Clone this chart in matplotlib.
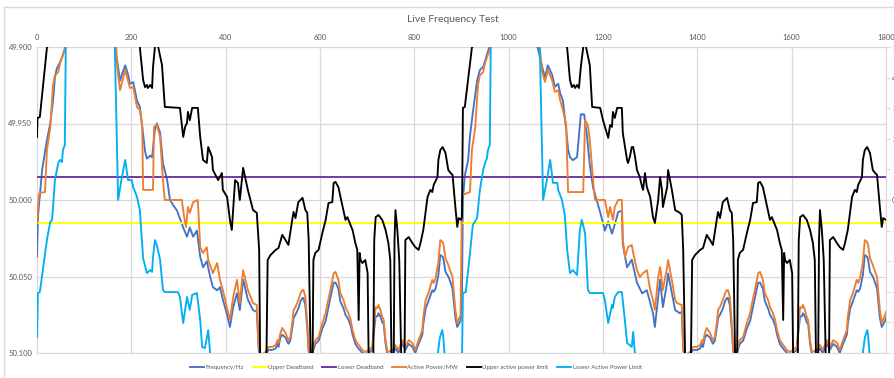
import matplotlib
matplotlib.use("Agg")
import matplotlib.pyplot as plt

plt.rcParams["font.family"] = ["Lato", "DejaVu Sans"]

# ---------------- data ----------------
time_ticks = [0, 200, 400, 600, 800, 1000, 1200, 1400, 1600, 1800]
freq_ticks = [49.90, 49.95, 50.00, 50.05, 50.10]
freq_tick_labels = ["49.900", "49.950", "50.000", "50.050", "50.100"]
mw_ticks = [-5, -4, -3, -2, -1, 0, 1, 2, 3, 4, 5]

upper_deadband_hz = 50.015
lower_deadband_hz = 49.985

# (time s, frequency Hz)
frequency = [
    (0, 50.037), (2, 50.011), (11, 49.980), (21, 49.961), (28, 49.950), (34, 49.935),
    (38, 49.920), (42, 49.914), (49, 49.910), (53, 49.907), (59, 49.901), (61, 49.898),
    (110, 49.850), (165, 49.899), (170, 49.909), (176, 49.922), (180, 49.918),
    (187, 49.912), (193, 49.918), (197, 49.924), (204, 49.923), (212, 49.935),
    (218, 49.939), (225, 49.957), (229, 49.968), (233, 49.973), (240, 49.971),
    (244, 49.972), (250, 49.954), (254, 49.950), (261, 49.956), (267, 49.976),
    (276, 49.987), (282, 50.000), (288, 50.003), (297, 50.007), (303, 50.012),
    (310, 50.018), (318, 50.024), (324, 50.018), (331, 50.024), (339, 50.020),
    (346, 50.037), (352, 50.044), (360, 50.040), (367, 50.050), (373, 50.057),
    (382, 50.059), (388, 50.057), (394, 50.065), (403, 50.075), (409, 50.083),
    (416, 50.070), (424, 50.061), (430, 50.072), (437, 50.052), (447, 50.065),
    (458, 50.072), (466, 50.073), (470, 50.098), (474, 50.103), (484, 50.101),
    (491, 50.098), (499, 50.098), (506, 50.097), (510, 50.094), (512, 50.096),
    (516, 50.090), (520, 50.088), (527, 50.090), (533, 50.094), (537, 50.092),
    (542, 50.082), (544, 50.077), (548, 50.075), (554, 50.071), (559, 50.066),
    (563, 50.064), (565, 50.064), (569, 50.069), (573, 50.084), (576, 50.099),
    (580, 50.103), (584, 50.100), (590, 50.094), (597, 50.092), (605, 50.084),
    (612, 50.079), (616, 50.073), (622, 50.064), (629, 50.054), (633, 50.054),
    (639, 50.058), (643, 50.066), (650, 50.071), (654, 50.075), (660, 50.078),
    (665, 50.082), (669, 50.088), (675, 50.094), (679, 50.096), (690, 50.100),
    (696, 50.101), (703, 50.100), (711, 50.098), (713, 50.090), (718, 50.076),
    (722, 50.076), (724, 50.074), (728, 50.076), (732, 50.080), (735, 50.081),
    (739, 50.094), (743, 50.101), (754, 50.100), (760, 50.097), (766, 50.100),
    (775, 50.094), (781, 50.098), (788, 50.094), (796, 50.096), (802, 50.100),
    (809, 50.094), (817, 50.088), (819, 50.081), (824, 50.071), (830, 50.066),
    (838, 50.059), (841, 50.060), (845, 50.058), (851, 50.049), (855, 50.036),
    (860, 50.037), (862, 50.039), (866, 50.047), (872, 50.050), (877, 50.054),
    (881, 50.058), (887, 50.077), (891, 50.083), (898, 50.079),
    (901, 50.061), (903, 50.000), (907, 49.984), (914, 49.974), (918, 49.958),
    (924, 49.943), (933, 49.922), (939, 49.915), (946, 49.913), (950, 49.909),
    (954, 49.905), (958, 49.901), (1010, 49.850), (1062, 49.901), (1071, 49.913),
    (1077, 49.920), (1083, 49.912), (1092, 49.918), (1098, 49.926), (1105, 49.924),
    (1109, 49.930), (1115, 49.935), (1122, 49.954), (1126, 49.967), (1130, 49.972),
    (1136, 49.974), (1145, 49.972), (1149, 49.958), (1153, 49.944), (1160, 49.944),
    (1166, 49.958), (1172, 49.977), (1179, 49.992), (1194, 50.008), (1204, 50.020),
    (1211, 50.014), (1219, 50.022), (1225, 50.016), (1232, 50.008), (1240, 50.007),
    (1242, 50.029), (1251, 50.044), (1261, 50.039), (1272, 50.054), (1283, 50.061),
    (1293, 50.059), (1306, 50.074), (1310, 50.083), (1321, 50.052), (1327, 50.070),
    (1336, 50.054), (1338, 50.048), (1346, 50.061), (1353, 50.072), (1363, 50.074),
    (1367, 50.073), (1370, 50.098), (1374, 50.103), (1384, 50.101), (1391, 50.098),
    (1399, 50.098), (1406, 50.097), (1410, 50.094), (1412, 50.096), (1416, 50.090),
    (1420, 50.088), (1427, 50.090), (1433, 50.094), (1437, 50.092), (1442, 50.082),
    (1444, 50.077), (1448, 50.075), (1454, 50.071), (1459, 50.066), (1463, 50.064),
    (1465, 50.064), (1469, 50.069), (1473, 50.084), (1476, 50.099), (1480, 50.103),
    (1484, 50.100), (1490, 50.094), (1497, 50.092), (1505, 50.084), (1512, 50.079),
    (1516, 50.073), (1522, 50.064), (1529, 50.054), (1533, 50.054), (1539, 50.058),
    (1543, 50.066), (1550, 50.071), (1554, 50.075), (1560, 50.078), (1565, 50.082),
    (1569, 50.088), (1575, 50.094), (1579, 50.096), (1590, 50.100), (1596, 50.101),
    (1603, 50.100), (1611, 50.098), (1613, 50.090), (1618, 50.076), (1622, 50.076),
    (1624, 50.074), (1628, 50.076), (1632, 50.080), (1635, 50.081), (1639, 50.094),
    (1643, 50.101), (1654, 50.100), (1660, 50.097), (1666, 50.100), (1675, 50.094),
    (1681, 50.098), (1688, 50.094), (1696, 50.096), (1702, 50.100), (1709, 50.094),
    (1717, 50.088), (1719, 50.081), (1724, 50.071), (1730, 50.066), (1738, 50.059),
    (1741, 50.060), (1745, 50.058), (1751, 50.049), (1755, 50.036), (1760, 50.037),
    (1762, 50.039), (1766, 50.047), (1772, 50.050), (1777, 50.054), (1781, 50.058),
    (1787, 50.077), (1791, 50.083), (1798, 50.079), (1800, 50.077),
]

# (time s, active power MW)
active_power = [
    (0, -0.75), (4, 0.16), (6, 0.23), (17, 0.26), (21, 1.63), (28, 2.35), (34, 3.76),
    (38, 4.08), (45, 4.18), (49, 4.48), (55, 4.74), (59, 4.90), (61, 5.03), (110, 6.5),
    (168, 5.00), (170, 4.35), (176, 3.59), (187, 4.25), (197, 3.66), (204, 3.69),
    (212, 3.04), (218, 2.94), (223, 2.45), (225, 0.33), (246, 0.33), (248, 2.39),
    (254, 2.45), (261, 2.06), (267, 0.65), (271, 0.00), (307, 0.00), (312, -0.56),
    (316, -0.88), (320, -0.23), (324, -0.42), (331, -0.07), (341, 0.00), (346, -1.54),
    (352, -1.73), (360, -1.54), (363, -1.96), (373, -2.39), (382, -2.06), (388, -2.61),
    (394, -2.94), (409, -3.92), (416, -3.17), (424, -2.61), (430, -3.37), (437, -2.29),
    (447, -2.94), (458, -3.37), (466, -3.43), (470, -4.80), (474, -5.07), (484, -4.97),
    (491, -4.80), (499, -4.80), (506, -4.74), (510, -4.58), (512, -4.67), (516, -4.35),
    (520, -4.18), (527, -4.35), (533, -4.58), (537, -4.48), (542, -3.92), (544, -3.59),
    (548, -3.50), (554, -3.27), (559, -3.04), (563, -2.94), (565, -2.94), (569, -3.17),
    (573, -4.02), (576, -4.90), (580, -5.10), (584, -4.90), (590, -4.58), (597, -4.48),
    (605, -4.02), (612, -3.69), (616, -3.37), (622, -2.94), (629, -2.39), (633, -2.35),
    (639, -2.61), (643, -3.04), (650, -3.27), (654, -3.50), (660, -3.69), (665, -3.92),
    (669, -4.25), (675, -4.58), (679, -4.67), (690, -4.90), (696, -4.97), (703, -4.90),
    (711, -4.80), (713, -4.35), (718, -3.50), (722, -3.53), (724, -3.43), (728, -3.59),
    (732, -3.82), (735, -3.92), (739, -4.58), (743, -4.97), (754, -4.90), (760, -4.74),
    (766, -4.90), (775, -4.58), (781, -4.80), (788, -4.58), (796, -4.67), (802, -4.90),
    (809, -4.58), (817, -4.25), (819, -3.82), (824, -3.27), (830, -3.04), (838, -2.61),
    (841, -2.71), (845, -2.55), (851, -2.03), (855, -1.31), (860, -1.37), (862, -1.47),
    (866, -1.90), (872, -2.12), (877, -2.35), (881, -2.52), (887, -3.59), (891, -4.02),
    (898, -3.76),
    (901, 0.16), (918, 0.26), (922, 1.63), (929, 2.35), (935, 3.76), (939, 4.08),
    (946, 4.18), (950, 4.48), (956, 4.74), (960, 4.90), (962, 5.03), (1010, 6.5),
    (1066, 4.97), (1071, 4.18), (1077, 3.86), (1083, 4.25), (1092, 3.92), (1098, 3.53),
    (1105, 3.59), (1109, 3.27), (1115, 2.94), (1122, 2.45), (1126, 0.26), (1158, 0.26),
    (1162, 2.61), (1168, 2.45), (1172, 1.96), (1179, 0.65), (1183, 0.00), (1204, 0.00),
    (1211, -0.56), (1215, -0.23), (1221, -0.65), (1225, -0.23), (1232, 0.00),
    (1240, 0.00), (1242, -1.31), (1247, -1.86), (1253, -1.54), (1261, -1.47),
    (1264, -1.73), (1272, -2.29), (1278, -2.52), (1285, -2.39), (1293, -2.29),
    (1300, -2.94), (1306, -3.27), (1310, -3.59), (1317, -2.52), (1321, -2.19),
    (1327, -2.94), (1336, -2.19), (1338, -1.96), (1346, -2.61), (1353, -3.27),
    (1357, -3.37), (1367, -3.43), (1370, -4.80), (1374, -5.07), (1384, -4.97),
    (1391, -4.80), (1399, -4.80), (1406, -4.74), (1410, -4.58), (1412, -4.67),
    (1416, -4.35), (1420, -4.18), (1427, -4.35), (1433, -4.58), (1437, -4.48),
    (1442, -3.92), (1444, -3.59), (1448, -3.50), (1454, -3.27), (1459, -3.04),
    (1463, -2.94), (1465, -2.94), (1469, -3.17), (1473, -4.02), (1476, -4.90),
    (1480, -5.10), (1484, -4.90), (1490, -4.58), (1497, -4.48), (1505, -4.02),
    (1512, -3.69), (1516, -3.37), (1522, -2.94), (1529, -2.39), (1533, -2.35),
    (1539, -2.61), (1543, -3.04), (1550, -3.27), (1554, -3.50), (1560, -3.69),
    (1565, -3.92), (1569, -4.25), (1575, -4.58), (1579, -4.67), (1590, -4.90),
    (1596, -4.97), (1603, -4.90), (1611, -4.80), (1613, -4.35), (1618, -3.50),
    (1622, -3.53), (1624, -3.43), (1628, -3.59), (1632, -3.82), (1635, -3.92),
    (1639, -4.58), (1643, -4.97), (1654, -4.90), (1660, -4.74), (1666, -4.90),
    (1675, -4.58), (1681, -4.80), (1688, -4.58), (1696, -4.67), (1702, -4.90),
    (1709, -4.58), (1717, -4.25), (1719, -3.82), (1724, -3.27), (1730, -3.04),
    (1738, -2.61), (1741, -2.71), (1745, -2.55), (1751, -2.03), (1755, -1.31),
    (1760, -1.37), (1762, -1.47), (1766, -1.90), (1772, -2.12), (1777, -2.35),
    (1781, -2.52), (1787, -3.59), (1791, -4.02), (1798, -3.76), (1800, -3.66),
]

# (time s, upper active power limit MW)
upper_limit = [
    (0, 2.06), (1, 2.68), (6, 2.71), (21, 4.97), (110, 8.0), (218, 5.00), (225, 3.92),
    (229, 3.69), (233, 3.76), (235, 3.66), (240, 3.76), (244, 3.66), (246, 4.35),
    (250, 5.00), (253, 5.23), (257, 5.00), (265, 4.41), (271, 3.04), (303, 3.01),
    (307, 2.45), (310, 2.06), (314, 2.39), (318, 2.52), (320, 2.88), (324, 2.61),
    (329, 3.01), (341, 3.01), (346, 2.06), (352, 1.31), (360, 1.21), (363, 1.73),
    (371, 1.41), (373, 0.98), (384, 0.65), (392, 0.88), (394, 0.33), (403, 0.10),
    (409, -0.65), (413, -0.98), (420, 0.65), (426, 0.56), (430, 0.00), (437, 1.05),
    (447, 0.33), (458, -0.33), (466, -0.42), (471, -1.63), (473, -5.00), (478, -5.9),
    (486, -5.7), (489, -1.96), (495, -1.80), (506, -1.63), (512, -1.57), (520, -1.14),
    (527, -1.31), (533, -1.47), (542, -0.56), (544, -0.39), (548, -0.59), (554, -0.07),
    (563, 0.07), (569, -0.33), (573, -0.42), (576, -1.31), (580, -5.00), (582, -5.7),
    (584, -5.7), (586, -1.96), (590, -1.73), (597, -1.63), (605, -1.08), (612, -0.65),
    (618, -0.10), (626, -0.07), (629, 0.56), (633, 0.59), (639, 0.42), (648, -0.23),
    (654, -0.65), (658, -0.56), (669, -0.98), (675, -1.41), (679, -1.63), (682, -3.92),
    (684, -1.73), (686, -1.96), (690, -2.06), (696, -1.96), (701, -2.39), (703, -5.0),
    (707, -5.7), (713, -5.2), (715, -1.31), (718, -0.56), (724, -0.49), (732, -0.65),
    (739, -0.98), (745, -1.41), (749, -1.96), (752, -5.7), (756, -5.7), (758, -1.31),
    (760, -0.33), (764, -0.98), (768, -1.96), (773, -5.7), (779, -5.7), (781, -1.31),
    (788, -1.21), (796, -1.41), (802, -1.54), (809, -1.63), (813, -1.41), (819, -0.98),
    (828, 0.10), (834, 0.33), (838, 0.26), (841, 0.49), (849, 0.75), (851, 1.31),
    (855, 1.63), (860, 1.73), (866, 1.54), (872, 0.98), (877, 0.88), (881, 0.82),
    (887, -0.23), (891, -0.88), (894, -0.59), (899, -0.65),
    (901, -0.56), (903, 3.01), (907, 3.04), (922, 4.97), (1010, 8.0), (1124, 4.97),
    (1130, 3.92), (1134, 3.69), (1138, 3.76), (1141, 3.66), (1145, 3.76), (1149, 3.66),
    (1153, 4.35), (1158, 5.00), (1160, 5.23), (1164, 5.00), (1172, 4.41), (1177, 3.04),
    (1194, 3.01), (1200, 2.61), (1208, 2.19), (1211, 2.03), (1215, 2.45), (1219, 2.39),
    (1221, 2.88), (1225, 2.68), (1230, 3.01), (1240, 3.01), (1242, 2.19), (1251, 1.31),
    (1253, 1.21), (1257, 1.41), (1261, 1.73), (1264, 1.73), (1268, 1.41), (1272, 0.98),
    (1278, 0.75), (1283, 0.42), (1285, 0.33), (1289, 0.88), (1293, 0.42), (1300, 0.10),
    (1306, -0.56), (1310, -0.75), (1317, 0.00), (1321, 0.75), (1325, 0.33),
    (1327, -0.23), (1336, 0.42), (1338, 0.98), (1346, 0.33), (1353, -0.33),
    (1363, -0.42), (1367, -0.49), (1370, -1.63), (1374, -5.00), (1378, -5.9),
    (1386, -5.7), (1389, -1.96), (1395, -1.80), (1406, -1.63), (1412, -1.57),
    (1420, -1.14), (1427, -1.31), (1433, -1.47), (1442, -0.56), (1444, -0.39),
    (1448, -0.59), (1454, -0.07), (1463, 0.07), (1469, -0.33), (1473, -0.42),
    (1476, -1.31), (1480, -5.00), (1482, -5.7), (1484, -5.7), (1486, -1.96),
    (1490, -1.73), (1497, -1.63), (1505, -1.08), (1512, -0.65), (1518, -0.10),
    (1526, -0.07), (1529, 0.56), (1533, 0.59), (1539, 0.42), (1548, -0.23),
    (1554, -0.65), (1558, -0.56), (1569, -0.98), (1575, -1.41), (1579, -1.63),
    (1582, -3.92), (1584, -1.73), (1586, -1.96), (1590, -2.06), (1596, -1.96),
    (1601, -2.39), (1603, -5.0), (1607, -5.7), (1613, -5.2), (1615, -1.31),
    (1618, -0.56), (1624, -0.49), (1632, -0.65), (1639, -0.98), (1645, -1.41),
    (1649, -1.96), (1652, -5.7), (1656, -5.7), (1658, -1.31), (1660, -0.33),
    (1664, -0.98), (1668, -1.96), (1673, -5.7), (1679, -5.7), (1681, -1.31),
    (1688, -1.21), (1696, -1.41), (1702, -1.54), (1709, -1.63), (1713, -1.41),
    (1719, -0.98), (1728, 0.10), (1734, 0.33), (1738, 0.26), (1741, 0.49),
    (1749, 0.75), (1751, 1.31), (1755, 1.63), (1760, 1.73), (1766, 1.54), (1772, 0.98),
    (1777, 0.88), (1781, 0.82), (1787, -0.23), (1791, -0.88), (1794, -0.59),
    (1800, -0.65),
]

# (time s, lower active power limit MW)
lower_limit = [
    (0, -4.48), (2, -3.04), (6, -3.01), (13, -2.22), (21, -1.31), (28, -0.72),
    (32, -0.65), (38, 0.65), (45, 1.21), (49, 1.31), (53, 1.24), (55, 1.63), (59, 1.80),
    (61, 5.00), (110, 8.0), (165, 5.00), (172, 0.00), (180, 0.75), (187, 1.31),
    (193, 0.65), (201, 0.65), (204, 0.42), (212, 0.10), (218, -0.33), (225, -1.90),
    (233, -2.39), (240, -2.29), (244, -2.35), (246, -1.86), (250, -1.31), (254, -1.47),
    (261, -1.96), (267, -2.94), (271, -3.01), (299, -3.01), (303, -3.17), (310, -4.02),
    (318, -3.17), (324, -3.59), (329, -3.10), (339, -3.04), (346, -3.92), (350, -4.80),
    (356, -4.84), (363, -4.25), (367, -5.00), (371, -5.56), (600, -6.5), (848, -5.23),
    (854, -4.51), (859, -4.25), (861, -4.41), (865, -5.23), (880, -6.0),
    (901, -5.23), (903, -3.04), (909, -3.01), (916, -2.03), (924, -0.82), (933, -0.59),
    (939, 0.33), (946, 0.98), (950, 1.21), (954, 1.37), (956, 1.63), (960, 1.80),
    (962, 5.00), (1010, 8.0), (1066, 5.00), (1073, 0.00), (1081, 0.65), (1088, 1.31),
    (1094, 0.56), (1103, 0.56), (1105, 0.33), (1113, 0.00), (1119, -0.49),
    (1124, -1.63), (1130, -2.39), (1136, -2.29), (1145, -2.45), (1151, -0.98),
    (1155, -0.65), (1162, -1.08), (1168, -2.94), (1172, -3.04), (1200, -3.04),
    (1204, -3.27), (1211, -4.02), (1219, -3.43), (1221, -3.53), (1225, -3.17),
    (1232, -3.01), (1240, -3.01), (1247, -4.02), (1251, -4.67), (1261, -4.80),
    (1264, -4.31), (1268, -5.07), (1272, -5.56), (1500, -6.5), (1749, -5.23),
    (1755, -4.51), (1760, -4.25), (1762, -4.41), (1766, -5.23), (1780, -6.0),
]

# ---------------- style ----------------
C_FREQ = "#4472C4"
C_UDB = "#FFFF00"
C_LDB = "#7030A0"
C_PWR = "#ED7D31"
C_UPL = "#000000"
C_LPL = "#00B0F0"
GRID = "#D9D9D9"
TXT = "#595959"

W, H = 895, 378
fig = plt.figure(figsize=(W / 100, H / 100), dpi=100)
fig.patch.set_facecolor("white")

# outer chart-area border
fig.add_artist(plt.Line2D([4 / W, 4 / W], [0, 1 - 7 / H], transform=fig.transFigure,
                          color=GRID, lw=1))
fig.add_artist(plt.Line2D([4 / W, 1], [1 - 7 / H, 1 - 7 / H], transform=fig.transFigure,
                          color=GRID, lw=1))

x0, x1 = 37 / W, 886 / W
y0, y1 = 1 - 353 / H, 1 - 47 / H
ax = fig.add_axes([x0, y0, x1 - x0, y1 - y0])
ax2 = ax.twinx()

ax.set_xlim(0, 1800)
ax.set_ylim(50.10, 49.90)
ax2.set_ylim(-5, 5)

ax.set_xticks(time_ticks)
ax.set_yticks(freq_ticks)
ax.set_yticklabels(freq_tick_labels)
ax2.set_yticks(mw_ticks)
ax2.set_yticklabels([str(v) for v in mw_ticks])

ax.xaxis.tick_top()
ax.tick_params(axis="x", length=0, labelsize=5.5, colors=TXT, pad=4.5)
ax.tick_params(axis="y", length=0, labelsize=5.5, colors=TXT, pad=3.5)
ax2.tick_params(axis="y", length=3, width=0.8, color=GRID, labelsize=5.5,
                colors=TXT, pad=1.5)
ax.grid(True, color=GRID, lw=0.9)
ax.set_axisbelow(True)
for a in (ax, ax2):
    for s in a.spines.values():
        s.set_visible(False)
for name in ("top", "bottom", "left"):
    ax.spines[name].set_visible(True)
    ax.spines[name].set_color(GRID)
ax2.spines["right"].set_visible(True)
ax2.spines["right"].set_color(GRID)

lw = 1.35
ft, fv = zip(*frequency)
pt, pv = zip(*active_power)
ut, uv = zip(*upper_limit)
lt, lv = zip(*lower_limit)

h1, = ax.plot(ft, fv, color=C_FREQ, lw=lw, label="Frequency/Hz", zorder=3)
h2 = ax.axhline(upper_deadband_hz, color=C_UDB, lw=lw, label="Upper Deadband", zorder=3)
h3 = ax.axhline(lower_deadband_hz, color=C_LDB, lw=lw, label="Lower Deadband", zorder=3)
h4, = ax2.plot(pt, pv, color=C_PWR, lw=lw, label="Active Power/MW", zorder=3)
h5, = ax2.plot(ut, uv, color=C_UPL, lw=lw, label="Upper active power limit", zorder=4)
h6, = ax2.plot(lt, lv, color=C_LPL, lw=lw, label="Lower Active Power Limit", zorder=5)

fig.text(453 / W, 1 - 20 / H, "Live Frequency Test", ha="center", va="center",
         fontsize=7.5, color=TXT)

fig.legend(handles=[h1, h2, h3, h4, h5, h6], loc="center", ncol=6,
           bbox_to_anchor=(416 / W, 1 - 367 / H), frameon=False, fontsize=4.4,
           labelcolor=TXT, handlelength=2.3, handletextpad=0.2, columnspacing=1.45)

fig.savefig("out.png", dpi=100, facecolor="white")
